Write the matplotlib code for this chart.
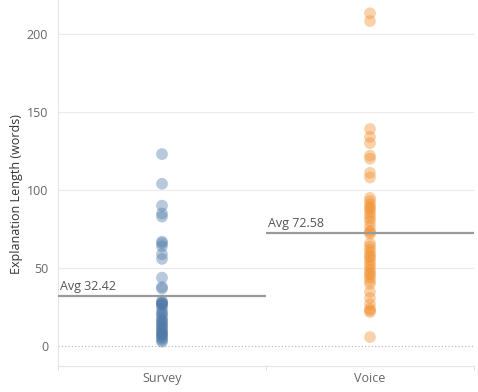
import matplotlib
matplotlib.use("Agg")
import matplotlib.pyplot as plt

plt.rcParams['font.family'] = ['Open Sans', 'DejaVu Sans']

categories = ["Survey", "Voice"]
survey_values = [123, 104, 90, 85, 83, 67, 66, 64, 59, 56, 44, 38, 37,
                 29, 28, 28, 27, 27, 26, 24, 22, 21, 20, 18, 17, 16, 15,
                 14, 13, 12, 11, 10, 9, 8, 8, 7, 6, 5, 4, 3]
voice_values = [213, 208, 139, 134, 130, 122, 120, 111, 108, 95, 93, 91,
                89, 88, 86, 84, 82, 80, 77, 74, 73, 72, 66, 64, 62, 60,
                58, 57, 55, 53, 51, 49, 47, 46, 44, 42, 40, 35, 31, 27,
                24, 23, 22, 6]
averages = [32.42, 72.58]
colors = ["#4E79A7", "#F28E2B"]
yticks = [0, 50, 100, 150, 200]

fig = plt.figure(figsize=(4.78, 3.92), dpi=100)
ax = fig.add_axes([58/478, 1 - 366/392, (474-58)/478, 366/392])

ax.set_xlim(-0.5, 1.5)
ax.set_ylim(-12.5, 221.5)

# gridlines
for t in yticks[1:]:
    ax.axhline(t, color="#ebebeb", lw=0.8, zorder=0)
ax.axhline(0, color="#b5b5b5", lw=0.8, ls=(0, (1, 2)), zorder=0)

series = [survey_values, voice_values]
for i, (vals, col) in enumerate(zip(series, colors)):
    ax.scatter([i] * len(vals), vals, s=72, color=col, alpha=0.4,
               edgecolors="none", zorder=2)
    ax.plot([i - 0.5, i + 0.5], [averages[i], averages[i]], color="#9a9a9a",
            lw=1.6, zorder=3, solid_capstyle="butt")
    ax.text(i - 0.49, averages[i] + 2.0, f"Avg {averages[i]:.2f}",
            fontsize=9, color="#555555", ha="left", va="bottom", zorder=4)

ax.set_yticks(yticks)
ax.set_yticklabels([str(t) for t in yticks])
ax.set_xticks([0, 1])
ax.set_xticklabels(categories)
ax.tick_params(axis="y", length=0, pad=7, labelsize=9, labelcolor="#666666")
ax.tick_params(axis="x", length=0, pad=4, labelsize=9, labelcolor="#666666")

# category divider ticks
for xd in [-0.5, 0.5, 1.5]:
    ax.plot([xd, xd], [-12.5, -15.0], color="#e0e0e0", lw=0.8, clip_on=False)

for side in ["top", "right"]:
    ax.spines[side].set_visible(False)
ax.spines["left"].set_color("#e6e6e6")
ax.spines["bottom"].set_color("#e6e6e6")
ax.spines["left"].set_linewidth(0.8)
ax.spines["bottom"].set_linewidth(0.8)

ax.set_ylabel("Explanation Length (words)", fontsize=9, color="#333333",
              labelpad=2)
ax.yaxis.set_label_coords(-0.085, 0.47)

fig.savefig("out.png", dpi=100)
